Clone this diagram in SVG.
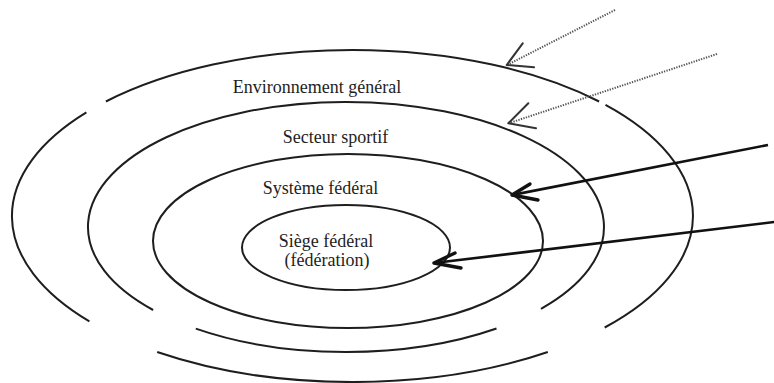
<svg xmlns="http://www.w3.org/2000/svg" width="774" height="383" viewBox="0 0 774 383">
<style>
.ring{fill:none;stroke:#1e1e1e;stroke-width:2}
.lbl{font-family:"Liberation Serif","Times New Roman",serif;font-size:18px;fill:#1e1e1e;text-anchor:middle}
.dot{fill:none;stroke:#555;stroke-width:2;stroke-dasharray:1.3 1.3}
.dhead{fill:none;stroke:#333;stroke-width:2;stroke-linecap:round;stroke-linejoin:round}
.sol{fill:none;stroke:#111;stroke-width:2.6}
.shead{fill:none;stroke:#111;stroke-width:3.4;stroke-linecap:round;stroke-linejoin:round}
</style>
<rect width="774" height="383" fill="#fff"/>
<g id="environnement-general">
<path class="ring" d="M105.9,101.5 A340.5,166 0 0 1 599.1,101.5"/>
<path class="ring" d="M605.5,104.9 A340.5,166 0 0 1 604.7,327.5"/>
<path class="ring" d="M547.8,352 A340.5,166 0 0 1 157.2,352"/>
<path class="ring" d="M89.4,321.4 A340.5,166 0 0 1 86.4,112.4"/>
<text class="lbl" x="317" y="93">Environnement général</text>
</g>
<g id="secteur-sportif">
<path class="ring" d="M153.1,310 A258,125 0 1 1 541,308.8"/>
<path class="ring" d="M496.5,328.5 A258,125 0 0 1 195.8,328.6"/>
<text class="lbl" x="335.5" y="143">Secteur sportif</text>
</g>
<g id="systeme-federal">
<ellipse class="ring" cx="348" cy="241" rx="195" ry="87"/>
<text class="lbl" x="320.5" y="194">Système fédéral</text>
</g>
<g id="siege-federal">
<ellipse class="ring" cx="346" cy="247.5" rx="104" ry="42.5"/>
<text class="lbl" x="326" y="247">Siège fédéral</text>
<text class="lbl" x="327" y="266">(fédération)</text>
</g>
<g id="connectors">
<line class="dot" x1="615" y1="10" x2="508" y2="64.5"/>
<path class="dhead" d="M522.7,43.3 L506.7,65 L534,67.3"/>
<line class="dot" x1="717" y1="54" x2="509.5" y2="123"/>
<path class="dhead" d="M528.3,103.3 L508.3,123.3 L536,128.3"/>
<line class="sol" x1="768" y1="145" x2="514" y2="194.6"/>
<path class="shead" d="M530,184 L512,195 L538,200"/>
<line class="sol" x1="776" y1="221.8" x2="436" y2="262.8"/>
<path class="shead" d="M455,253 L434,263 L461,268"/>
</g>
</svg>
